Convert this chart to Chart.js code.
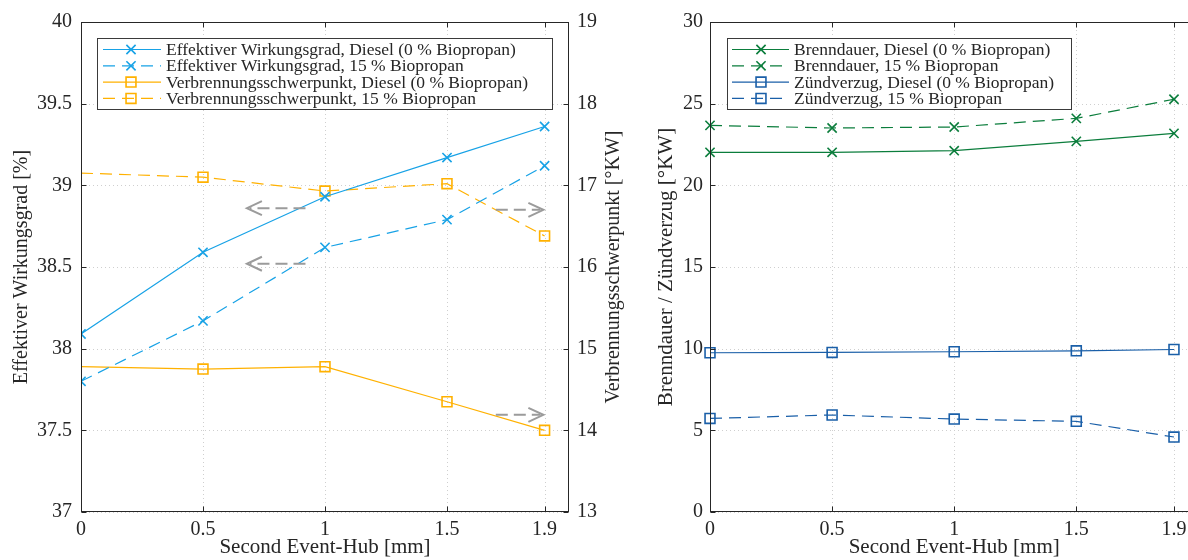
<!DOCTYPE html>
<html>
<head>
<meta charset="utf-8">
<script src="https://cdn.jsdelivr.net/npm/chart.js@4.4.0/dist/chart.umd.min.js"></script>
<style>
  html, body { margin:0; padding:0; background:#fff; overflow:hidden; width:1188px; height:560px; }
  #left_chart { position:absolute; left:0; top:0; }
  #right_chart { position:absolute; left:632px; top:0; }
</style>
</head>
<body>
<canvas id="left_chart" width="632" height="560"></canvas>
<canvas id="right_chart" width="575" height="560"></canvas>
<script>
/* DATA */
const event_hub = [0, 0.5, 1, 1.5, 1.9];              // Second Event-Hub [mm]
const x_tick_values = [0, 0.5, 1, 1.5, 1.9];

const wirkungsgrad_diesel = [38.09, 38.59, 38.93, 39.17, 39.36];   // [%]
const wirkungsgrad_15 = [37.80, 38.17, 38.62, 38.79, 39.12];
const schwerpunkt_diesel = [14.78, 14.75, 14.78, 14.35, 14.00];    // [°KW]
const schwerpunkt_15 = [17.15, 17.10, 16.93, 17.02, 16.38];

const brenndauer_diesel = [22.02, 22.02, 22.12, 22.69, 23.18];     // [°KW]
const brenndauer_15 = [23.67, 23.51, 23.57, 24.10, 25.27];
const zuendverzug_diesel = [9.75, 9.77, 9.81, 9.87, 9.95];
const zuendverzug_15 = [5.73, 5.94, 5.69, 5.55, 4.59];

// grey arrows telling which axis a curve belongs to (data coordinates)
const left_axis_arrows = [
  {x_from: 0.92, x_to: 0.68, y: 38.86, axis: 'y'},
  {x_from: 0.92, x_to: 0.68, y: 38.52, axis: 'y'},
  {x_from: 1.70, x_to: 1.895, y: 16.70, axis: 'y2'},
  {x_from: 1.70, x_to: 1.895, y: 14.19, axis: 'y2'}
];

/* STYLE SETTING */
const FONT_FAMILY = '"Liberation Serif", "DejaVu Serif", serif';
const TEXT_COLOR = '#262626';
const GRID_COLOR = '#cfcfcf';
const ARROW_COLOR = '#9b9b9b';
const DASH = [12, 7];
const COLORS = {
  light_blue: '#17a2e6',
  orange: '#ffb100',
  green: '#0b7d3c',
  dark_blue: '#1a5fa8'
};

function make_dataset(label, values, color, dashed, marker, axis, hide_first) {
  const r = marker === 'rect' ? 7 : 6.5;
  return {
    label: label,
    data: event_hub.map((x, i) => ({x: x, y: values[i]})),
    borderColor: color,
    backgroundColor: color,
    borderWidth: 1.2,
    borderDash: dashed ? DASH : [],
    pointStyle: marker,
    pointRadius: event_hub.map((x, i) => (hide_first && i === 0) ? 0 : r),
    legend_radius: r,
    pointBorderWidth: 1.6,
    pointBackgroundColor: 'rgba(0,0,0,0)',
    pointBorderColor: color,
    yAxisID: axis,
    tension: 0,
    clip: 0
  };
}

function draw_marker(ctx, style, r, x, y) {
  const s = Math.SQRT1_2 * r;
  ctx.beginPath();
  if (style === 'rect') {
    ctx.rect(x - s, y - s, 2 * s, 2 * s);
  } else {
    ctx.moveTo(x - s, y - s); ctx.lineTo(x + s, y + s);
    ctx.moveTo(x - s, y + s); ctx.lineTo(x + s, y - s);
  }
  ctx.stroke();
}

function draw_arrow(ctx, px_from, px_to, py) {
  const dir = Math.sign(px_to - px_from);
  ctx.save();
  ctx.strokeStyle = ARROW_COLOR;
  ctx.lineWidth = 2;
  ctx.setLineDash([12, 6]);
  ctx.beginPath();
  ctx.moveTo(px_from, py); ctx.lineTo(px_to - dir * 3, py);
  ctx.stroke();
  ctx.setLineDash([]);
  ctx.beginPath();
  ctx.moveTo(px_to - dir * 15, py - 7); ctx.lineTo(px_to, py); ctx.lineTo(px_to - dir * 15, py + 7);
  ctx.stroke();
  ctx.restore();
}

/* PLUGIN : dotted grid, box with inner ticks, arrows, legend, right title */
const matlab_axes_plugin = {
  id: 'matlab_axes',
  beforeDatasetsDraw(chart) {
    const {ctx, chartArea: a, scales} = chart;
    ctx.save();
    ctx.strokeStyle = GRID_COLOR;
    ctx.lineWidth = 1;
    ctx.setLineDash([1, 3]);
    scales.x.ticks.forEach(t => {
      const px = Math.round(scales.x.getPixelForValue(t.value)) + 0.5;
      ctx.beginPath(); ctx.moveTo(px, a.top); ctx.lineTo(px, a.bottom); ctx.stroke();
    });
    scales.y.ticks.forEach(t => {
      const py = Math.round(scales.y.getPixelForValue(t.value)) + 0.5;
      ctx.beginPath(); ctx.moveTo(a.left, py); ctx.lineTo(a.right, py); ctx.stroke();
    });
    ctx.restore();
  },
  afterDatasetsDraw(chart, args, opts) {
    const {ctx, chartArea: a, scales} = chart;

    // 1. arrows
    (opts.arrows || []).forEach(ar => {
      draw_arrow(ctx, scales.x.getPixelForValue(ar.x_from), scales.x.getPixelForValue(ar.x_to),
        scales[ar.axis].getPixelForValue(ar.y));
    });

    // 2. box + inner ticks
    ctx.save();
    ctx.strokeStyle = TEXT_COLOR;
    ctx.lineWidth = 1;
    const L = Math.round(a.left) + 0.5, R = Math.round(a.right) - 0.5;
    const T = Math.round(a.top) + 0.5, B = Math.round(a.bottom) - 0.5;
    ctx.strokeRect(L, T, R - L, B - T);
    const tl = 5;
    ctx.beginPath();
    scales.x.ticks.forEach(t => {
      const px = Math.round(scales.x.getPixelForValue(t.value)) + 0.5;
      ctx.moveTo(px, B); ctx.lineTo(px, B - tl);
      ctx.moveTo(px, T); ctx.lineTo(px, T + tl);
    });
    scales.y.ticks.forEach(t => {
      const py = Math.round(scales.y.getPixelForValue(t.value)) + 0.5;
      ctx.moveTo(L, py); ctx.lineTo(L + tl, py);
      if (!scales.y2) { ctx.moveTo(R, py); ctx.lineTo(R - tl, py); }
    });
    if (scales.y2) {
      scales.y2.ticks.forEach(t => {
        const py = Math.round(scales.y2.getPixelForValue(t.value)) + 0.5;
        ctx.moveTo(R, py); ctx.lineTo(R - tl, py);
      });
    }
    ctx.stroke();
    ctx.restore();

    // 3. right axis title (reads bottom to top)
    if (opts.right_title) {
      ctx.save();
      ctx.translate(opts.right_title.x, (a.top + a.bottom) / 2);
      ctx.rotate(-Math.PI / 2);
      ctx.fillStyle = TEXT_COLOR;
      ctx.font = '20px ' + FONT_FAMILY;
      ctx.textAlign = 'center';
      ctx.textBaseline = 'middle';
      ctx.fillText(opts.right_title.text, 0, 0);
      ctx.restore();
    }

    // 4. legend box
    const lg = opts.legend;
    if (lg) {
      ctx.save();
      ctx.fillStyle = '#ffffff';
      ctx.fillRect(lg.x, lg.y, lg.w, lg.h);
      ctx.strokeStyle = '#3a3a3a';
      ctx.lineWidth = 1;
      ctx.strokeRect(Math.round(lg.x) + 0.5, Math.round(lg.y) + 0.5, lg.w, lg.h);
      ctx.font = '17.5px ' + FONT_FAMILY;
      ctx.textBaseline = 'middle';
      chart.data.datasets.forEach((ds, i) => {
        const ry = lg.y + lg.first_row + i * lg.row_step;
        ctx.strokeStyle = ds.borderColor;
        ctx.lineWidth = ds.borderWidth;
        ctx.setLineDash(ds.borderDash);
        ctx.beginPath();
        ctx.moveTo(lg.x + lg.sample_from, ry); ctx.lineTo(lg.x + lg.sample_to, ry);
        ctx.stroke();
        ctx.setLineDash([]);
        ctx.lineWidth = ds.pointBorderWidth;
        draw_marker(ctx, ds.pointStyle, ds.legend_radius, lg.x + lg.marker_at, ry);
        ctx.fillStyle = TEXT_COLOR;
        ctx.fillText(ds.label, lg.x + lg.text_at, ry + 1);
      });
      ctx.restore();
    }
  }
};

function tick_font() { return {family: FONT_FAMILY, size: 20}; }

function x_scale() {
  return {
    type: 'linear', min: 0, max: 2,
    afterBuildTicks: s => { s.ticks = x_tick_values.map(v => ({value: v})); },
    afterFit: s => { s.height = 48; },
    grid: {display: false, drawTicks: false}, border: {display: false},
    ticks: {color: TEXT_COLOR, font: tick_font(), padding: 6, maxRotation: 0, callback: v => String(v)},
    title: {display: true, text: 'Second Event-Hub [mm]', color: TEXT_COLOR,
      font: {family: FONT_FAMILY, size: 21}, padding: {top: 0, bottom: 0}}
  };
}

/* CHART SETTING : left */
const left_chart = new Chart(document.getElementById('left_chart').getContext('2d'), {
  type: 'line',
  data: {
    datasets: [
      make_dataset('Effektiver Wirkungsgrad, Diesel (0 % Biopropan)', wirkungsgrad_diesel, COLORS.light_blue, false, 'crossRot', 'y', false),
      make_dataset('Effektiver Wirkungsgrad, 15 % Biopropan', wirkungsgrad_15, COLORS.light_blue, true, 'crossRot', 'y', false),
      make_dataset('Verbrennungsschwerpunkt, Diesel (0 % Biopropan)', schwerpunkt_diesel, COLORS.orange, false, 'rect', 'y2', true),
      make_dataset('Verbrennungsschwerpunkt, 15 % Biopropan', schwerpunkt_15, COLORS.orange, true, 'rect', 'y2', true)
    ]
  },
  options: {
    responsive: false, animation: false,
    layout: {padding: {top: 22, left: 0, right: 0, bottom: 0}},
    plugins: {
      legend: {display: false}, tooltip: {enabled: false},
      matlab_axes: {
        arrows: left_axis_arrows,
        right_title: {x: 614, text: 'Verbrennungsschwerpunkt [°KW]'},
        legend: {x: 97, y: 38, w: 455, h: 71, first_row: 11.5, row_step: 16.3,
          sample_from: 6, sample_to: 64, marker_at: 34, text_at: 69}
      }
    },
    scales: {
      x: x_scale(),
      y: {
        position: 'left', min: 37, max: 40,
        afterFit: s => { s.width = 81; },
        grid: {display: false, drawTicks: false}, border: {display: false},
        ticks: {stepSize: 0.5, color: TEXT_COLOR, font: tick_font(), padding: 9, callback: v => String(v)},
        title: {display: true, text: 'Effektiver Wirkungsgrad [%]', color: TEXT_COLOR,
          font: {family: FONT_FAMILY, size: 20}, padding: {top: 10, bottom: 0}}
      },
      y2: {
        position: 'right', min: 13, max: 19,
        afterFit: s => { s.width = 63; },
        grid: {display: false, drawTicks: false}, border: {display: false},
        ticks: {stepSize: 1, color: TEXT_COLOR, font: tick_font(), padding: 8, callback: v => String(v)}
      }
    }
  },
  plugins: [matlab_axes_plugin]
});

/* CHART SETTING : right (its x = 2 edge lies just past the window) */
const right_chart = new Chart(document.getElementById('right_chart').getContext('2d'), {
  type: 'line',
  data: {
    datasets: [
      make_dataset('Brenndauer, Diesel (0 % Biopropan)', brenndauer_diesel, COLORS.green, false, 'crossRot', 'y', false),
      make_dataset('Brenndauer, 15 % Biopropan', brenndauer_15, COLORS.green, true, 'crossRot', 'y', false),
      make_dataset('Zündverzug, Diesel (0 % Biopropan)', zuendverzug_diesel, COLORS.dark_blue, false, 'rect', 'y', false),
      make_dataset('Zündverzug, 15 % Biopropan', zuendverzug_15, COLORS.dark_blue, true, 'rect', 'y', false)
    ].map(ds => Object.assign(ds, {clip: false}))
  },
  options: {
    responsive: false, animation: false,
    layout: {padding: {top: 22, left: 0, right: 0, bottom: 0}},
    plugins: {
      legend: {display: false}, tooltip: {enabled: false},
      matlab_axes: {
        legend: {x: 95, y: 38, w: 344, h: 71, first_row: 11.5, row_step: 16.3,
          sample_from: 5, sample_to: 62, marker_at: 34, text_at: 67}
      }
    },
    scales: {
      x: x_scale(),
      y: {
        position: 'left', min: 0, max: 30,
        afterFit: s => { s.width = 78; },
        grid: {display: false, drawTicks: false}, border: {display: false},
        ticks: {stepSize: 5, color: TEXT_COLOR, font: tick_font(), padding: 7, callback: v => String(v)},
        title: {display: true, text: 'Brenndauer / Zündverzug [°KW]', color: TEXT_COLOR,
          font: {family: FONT_FAMILY, size: 21}, padding: {top: 22, bottom: 0}}
      }
    }
  },
  plugins: [matlab_axes_plugin]
});
</script>
</body>
</html>
